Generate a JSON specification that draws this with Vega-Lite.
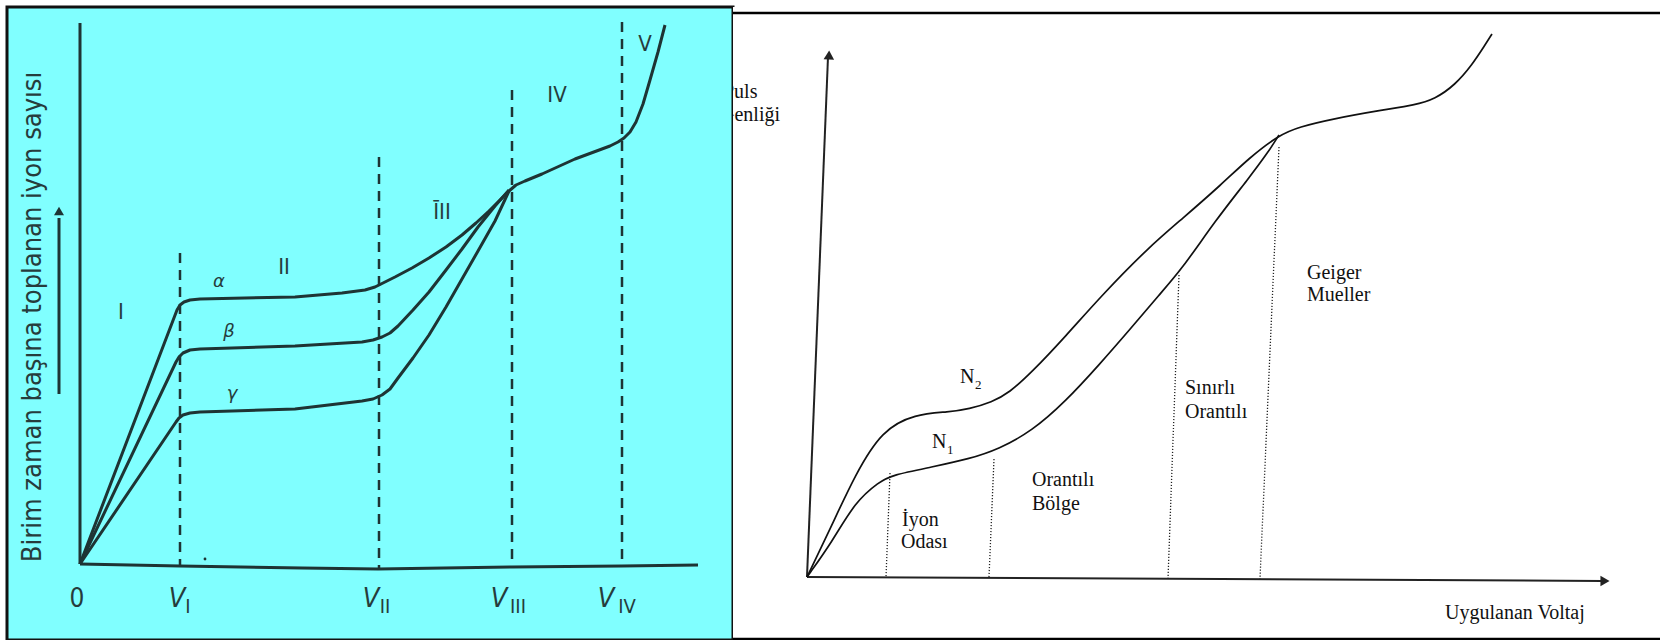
{
  "$schema": "https://vega.github.io/schema/vega-lite/v6.json",
  "padding": {"left": 5, "top": 5, "right": 0, "bottom": 0},
  "spacing": 0,
  "bounds": "flush",
  "background": "white",
  "config": {"view": {"stroke": null}},
  "datasets": {
    "leftCurves": [
      {"s": "alpha", "i": 0, "x": 0, "y": 0}, {"s": "alpha", "i": 1, "x": 97, "y": 254}, {"s": "alpha", "i": 2, "x": 100, "y": 259}, {"s": "alpha", "i": 3, "x": 104, "y": 262}, {"s": "alpha", "i": 4, "x": 110, "y": 264}, {"s": "alpha", "i": 5, "x": 120, "y": 265}, {"s": "alpha", "i": 6, "x": 215, "y": 267}, {"s": "alpha", "i": 7, "x": 262, "y": 271}, {"s": "alpha", "i": 8, "x": 285, "y": 274}, {"s": "alpha", "i": 9, "x": 295, "y": 277}, {"s": "alpha", "i": 10, "x": 307, "y": 283}, {"s": "alpha", "i": 11, "x": 315, "y": 287}, {"s": "alpha", "i": 12, "x": 332, "y": 296}, {"s": "alpha", "i": 13, "x": 349, "y": 306}, {"s": "alpha", "i": 14, "x": 366, "y": 317}, {"s": "alpha", "i": 15, "x": 382, "y": 329}, {"s": "alpha", "i": 16, "x": 396, "y": 341}, {"s": "alpha", "i": 17, "x": 409, "y": 353}, {"s": "alpha", "i": 18, "x": 420, "y": 364}, {"s": "alpha", "i": 19, "x": 429, "y": 373}, {"s": "alpha", "i": 20, "x": 436, "y": 379}, {"s": "alpha", "i": 21, "x": 445, "y": 383}, {"s": "alpha", "i": 22, "x": 462, "y": 390}, {"s": "alpha", "i": 23, "x": 495, "y": 405}, {"s": "alpha", "i": 24, "x": 530, "y": 418}, {"s": "alpha", "i": 25, "x": 538, "y": 422}, {"s": "alpha", "i": 26, "x": 544, "y": 426}, {"s": "alpha", "i": 27, "x": 550, "y": 432}, {"s": "alpha", "i": 28, "x": 556, "y": 442}, {"s": "alpha", "i": 29, "x": 563, "y": 460}, {"s": "alpha", "i": 30, "x": 570, "y": 484}, {"s": "alpha", "i": 31, "x": 578, "y": 512}, {"s": "alpha", "i": 32, "x": 585, "y": 539},
      {"s": "beta", "i": 0, "x": 0, "y": 0}, {"s": "beta", "i": 1, "x": 96, "y": 202}, {"s": "beta", "i": 2, "x": 99, "y": 207}, {"s": "beta", "i": 3, "x": 103, "y": 211}, {"s": "beta", "i": 4, "x": 110, "y": 214}, {"s": "beta", "i": 5, "x": 120, "y": 215}, {"s": "beta", "i": 6, "x": 215, "y": 218}, {"s": "beta", "i": 7, "x": 282, "y": 222}, {"s": "beta", "i": 8, "x": 293, "y": 224}, {"s": "beta", "i": 9, "x": 302, "y": 227}, {"s": "beta", "i": 10, "x": 310, "y": 231}, {"s": "beta", "i": 11, "x": 318, "y": 238}, {"s": "beta", "i": 12, "x": 333, "y": 254}, {"s": "beta", "i": 13, "x": 349, "y": 272}, {"s": "beta", "i": 14, "x": 366, "y": 294}, {"s": "beta", "i": 15, "x": 382, "y": 315}, {"s": "beta", "i": 16, "x": 398, "y": 337}, {"s": "beta", "i": 17, "x": 415, "y": 358}, {"s": "beta", "i": 18, "x": 429, "y": 374},
      {"s": "gamma", "i": 0, "x": 0, "y": 0}, {"s": "gamma", "i": 1, "x": 96, "y": 142}, {"s": "gamma", "i": 2, "x": 99, "y": 146}, {"s": "gamma", "i": 3, "x": 103, "y": 149}, {"s": "gamma", "i": 4, "x": 110, "y": 151}, {"s": "gamma", "i": 5, "x": 120, "y": 152}, {"s": "gamma", "i": 6, "x": 215, "y": 155}, {"s": "gamma", "i": 7, "x": 282, "y": 163}, {"s": "gamma", "i": 8, "x": 293, "y": 165}, {"s": "gamma", "i": 9, "x": 302, "y": 169}, {"s": "gamma", "i": 10, "x": 310, "y": 175}, {"s": "gamma", "i": 11, "x": 318, "y": 186}, {"s": "gamma", "i": 12, "x": 333, "y": 206}, {"s": "gamma", "i": 13, "x": 349, "y": 229}, {"s": "gamma", "i": 14, "x": 366, "y": 257}, {"s": "gamma", "i": 15, "x": 382, "y": 285}, {"s": "gamma", "i": 16, "x": 398, "y": 313}, {"s": "gamma", "i": 17, "x": 415, "y": 343}, {"s": "gamma", "i": 18, "x": 429, "y": 373}
    ],
    "leftAxes": [
      {"s": "base", "i": 0, "x": 0, "y": 0}, {"s": "base", "i": 1, "x": 100, "y": -2}, {"s": "base", "i": 2, "x": 222, "y": -4}, {"s": "base", "i": 3, "x": 298, "y": -5}, {"s": "base", "i": 4, "x": 432, "y": -3}, {"s": "base", "i": 5, "x": 542, "y": -2}, {"s": "base", "i": 6, "x": 618, "y": -1},
      {"s": "yaxis", "i": 0, "x": 0, "y": 0}, {"s": "yaxis", "i": 1, "x": 0, "y": 541},
      {"s": "arrow", "i": 0, "x": -21, "y": 170}, {"s": "arrow", "i": 1, "x": -21, "y": 346}
    ],
    "rightCurves": [
      {"s": "N2", "i": 0, "x": 0, "y": 0}, {"s": "N2", "i": 1, "x": 25, "y": 52}, {"s": "N2", "i": 2, "x": 48, "y": 102}, {"s": "N2", "i": 3, "x": 75, "y": 147}, {"s": "N2", "i": 4, "x": 108, "y": 163}, {"s": "N2", "i": 5, "x": 142, "y": 165}, {"s": "N2", "i": 6, "x": 162, "y": 168}, {"s": "N2", "i": 7, "x": 185, "y": 175}, {"s": "N2", "i": 8, "x": 202, "y": 184}, {"s": "N2", "i": 9, "x": 225, "y": 205}, {"s": "N2", "i": 10, "x": 258, "y": 240}, {"s": "N2", "i": 11, "x": 295, "y": 282}, {"s": "N2", "i": 12, "x": 342, "y": 330}, {"s": "N2", "i": 13, "x": 375, "y": 358}, {"s": "N2", "i": 14, "x": 415, "y": 393}, {"s": "N2", "i": 15, "x": 442, "y": 419}, {"s": "N2", "i": 16, "x": 472, "y": 442}, {"s": "N2", "i": 17, "x": 492, "y": 450}, {"s": "N2", "i": 18, "x": 525, "y": 458}, {"s": "N2", "i": 19, "x": 575, "y": 467}, {"s": "N2", "i": 20, "x": 608, "y": 472}, {"s": "N2", "i": 21, "x": 628, "y": 478}, {"s": "N2", "i": 22, "x": 648, "y": 492}, {"s": "N2", "i": 23, "x": 665, "y": 512}, {"s": "N2", "i": 24, "x": 678, "y": 532}, {"s": "N2", "i": 25, "x": 685, "y": 543},
      {"s": "N1", "i": 0, "x": 0, "y": 0}, {"s": "N1", "i": 1, "x": 25, "y": 35}, {"s": "N1", "i": 2, "x": 48, "y": 75}, {"s": "N1", "i": 3, "x": 72, "y": 95}, {"s": "N1", "i": 4, "x": 85, "y": 102}, {"s": "N1", "i": 5, "x": 125, "y": 110}, {"s": "N1", "i": 6, "x": 162, "y": 118}, {"s": "N1", "i": 7, "x": 192, "y": 128}, {"s": "N1", "i": 8, "x": 225, "y": 146}, {"s": "N1", "i": 9, "x": 258, "y": 175}, {"s": "N1", "i": 10, "x": 292, "y": 212}, {"s": "N1", "i": 11, "x": 325, "y": 250}, {"s": "N1", "i": 12, "x": 352, "y": 282}, {"s": "N1", "i": 13, "x": 375, "y": 308}, {"s": "N1", "i": 14, "x": 408, "y": 356}, {"s": "N1", "i": 15, "x": 442, "y": 399}, {"s": "N1", "i": 16, "x": 462, "y": 426}, {"s": "N1", "i": 17, "x": 472, "y": 442}
    ],
    "rightAxes": [
      {"s": "yaxis", "i": 0, "x": 0, "y": 0}, {"s": "yaxis", "i": 1, "x": 21, "y": 520},
      {"s": "xaxis", "i": 0, "x": 0, "y": 0}, {"s": "xaxis", "i": 1, "x": 796, "y": -4}
    ]
  },
  "hconcat": [
    {
      "width": 726,
      "height": 633,
      "view": {"fill": "#80FFFF", "stroke": "#111111", "strokeWidth": 3},
      "layer": [
        {
          "data": {"name": "leftAxes"},
          "mark": {"type": "line", "color": "#1e3434", "strokeWidth": 3, "interpolate": "linear"},
          "encoding": {
            "x": {"field": "x", "type": "quantitative", "scale": {"domain": [-73, 653], "nice": false, "zero": false}, "axis": null},
            "y": {"field": "y", "type": "quantitative", "scale": {"domain": [-76, 557], "nice": false, "zero": false}, "axis": null},
            "detail": {"field": "s"},
            "order": {"field": "i"}
          }
        },
        {
          "data": {"name": "leftCurves"},
          "mark": {"type": "line", "color": "#1e3434", "strokeWidth": 3, "interpolate": "linear", "strokeJoin": "round"},
          "encoding": {
            "x": {"field": "x", "type": "quantitative"},
            "y": {"field": "y", "type": "quantitative"},
            "detail": {"field": "s"},
            "order": {"field": "i"}
          }
        },
        {
          "data": {"values": [{"v": "V_I", "x": 100, "top": 311, "bottom": -2}, {"v": "V_II", "x": 299, "top": 407, "bottom": -4}, {"v": "V_III", "x": 432, "top": 474, "bottom": -3}, {"v": "V_IV", "x": 542, "top": 542, "bottom": -2}]},
          "mark": {"type": "rule", "color": "#1e3434", "strokeWidth": 2.5, "strokeDash": [10, 7]},
          "encoding": {
            "x": {"field": "x", "type": "quantitative"},
            "y": {"field": "top", "type": "quantitative"},
            "y2": {"field": "bottom"}
          }
        },
        {
          "data": {"values": [{"x": -21, "y": 353}]},
          "mark": {"type": "point", "shape": "triangle-up", "filled": true, "color": "#1e3434", "size": 100, "opacity": 1},
          "encoding": {
            "x": {"field": "x", "type": "quantitative"},
            "y": {"field": "y", "type": "quantitative"}
          }
        },
        {
          "data": {"values": [{"x": 125, "y": 5}]},
          "mark": {"type": "point", "shape": "circle", "filled": true, "color": "#1e3434", "size": 8, "opacity": 1},
          "encoding": {
            "x": {"field": "x", "type": "quantitative"},
            "y": {"field": "y", "type": "quantitative"}
          }
        },
        {
          "data": {"values": [{"t": "Birim zaman başına toplanan iyon sayısı", "x": -47, "y": 247}]},
          "mark": {"type": "text", "angle": 270, "font": "Liberation Sans Narrow, DejaVu Sans Condensed, sans-serif", "fontSize": 27, "color": "#263c3c", "align": "center", "baseline": "middle"},
          "encoding": {
            "x": {"field": "x", "type": "quantitative"},
            "y": {"field": "y", "type": "quantitative"},
            "text": {"field": "t"}
          }
        },
        {
          "data": {"values": [{"t": "0", "x": -3, "y": -35}]},
          "mark": {"type": "text", "font": "Liberation Sans Narrow, DejaVu Sans Condensed, sans-serif", "fontSize": 26, "color": "#263c3c", "align": "center", "baseline": "middle"},
          "encoding": {
            "x": {"field": "x", "type": "quantitative"},
            "y": {"field": "y", "type": "quantitative"},
            "text": {"field": "t"}
          }
        },
        {
          "data": {"values": [{"t": "V", "x": 97, "y": -35}, {"t": "V", "x": 291, "y": -35}, {"t": "V", "x": 419, "y": -35}, {"t": "V", "x": 526, "y": -35}]},
          "mark": {"type": "text", "font": "Liberation Sans Narrow, DejaVu Sans Condensed, sans-serif", "fontSize": 27, "fontStyle": "italic", "color": "#263c3c", "align": "center", "baseline": "middle"},
          "encoding": {
            "x": {"field": "x", "type": "quantitative"},
            "y": {"field": "y", "type": "quantitative"},
            "text": {"field": "t"}
          }
        },
        {
          "data": {"values": [{"t": "I", "x": 108, "y": -43}, {"t": "II", "x": 305, "y": -43}, {"t": "III", "x": 438, "y": -43}, {"t": "IV", "x": 547, "y": -43}]},
          "mark": {"type": "text", "font": "Liberation Sans Narrow, DejaVu Sans Condensed, sans-serif", "fontSize": 20, "color": "#263c3c", "align": "center", "baseline": "middle"},
          "encoding": {
            "x": {"field": "x", "type": "quantitative"},
            "y": {"field": "y", "type": "quantitative"},
            "text": {"field": "t"}
          }
        },
        {
          "data": {"values": [{"t": "I", "x": 41, "y": 252}, {"t": "II", "x": 204, "y": 297}, {"t": "ĪII", "x": 362, "y": 352}, {"t": "IV", "x": 477, "y": 469}, {"t": "V", "x": 565, "y": 520}]},
          "mark": {"type": "text", "font": "Liberation Sans Narrow, DejaVu Sans Condensed, sans-serif", "fontSize": 22, "color": "#263c3c", "align": "center", "baseline": "middle"},
          "encoding": {
            "x": {"field": "x", "type": "quantitative"},
            "y": {"field": "y", "type": "quantitative"},
            "text": {"field": "t"}
          }
        },
        {
          "data": {"values": [{"t": "α", "x": 139, "y": 282}, {"t": "β", "x": 149, "y": 232}, {"t": "γ", "x": 152, "y": 170}]},
          "mark": {"type": "text", "font": "DejaVu Sans", "fontSize": 18, "fontStyle": "italic", "color": "#263c3c", "align": "center", "baseline": "middle"},
          "encoding": {
            "x": {"field": "x", "type": "quantitative"},
            "y": {"field": "y", "type": "quantitative"},
            "text": {"field": "t"}
          }
        }
      ]
    },
    {
      "width": 929,
      "height": 635,
      "view": {"fill": "white", "stroke": null},
      "layer": [
        {
          "data": {"values": [{"b": "top", "x": -74, "x2": 855, "y": 564}, {"b": "bottom", "x": -74, "x2": 855, "y": -62}]},
          "mark": {"type": "rule", "color": "black", "strokeWidth": 2.5},
          "encoding": {
            "x": {"field": "x", "type": "quantitative", "scale": {"domain": [-74, 855], "nice": false, "zero": false}, "axis": null},
            "x2": {"field": "x2"},
            "y": {"field": "y", "type": "quantitative", "scale": {"domain": [-65, 570], "nice": false, "zero": false}, "axis": null}
          }
        },
        {
          "data": {"name": "rightAxes"},
          "mark": {"type": "line", "color": "#222222", "strokeWidth": 2, "interpolate": "linear"},
          "encoding": {
            "x": {"field": "x", "type": "quantitative"},
            "y": {"field": "y", "type": "quantitative"},
            "detail": {"field": "s"},
            "order": {"field": "i"}
          }
        },
        {
          "data": {"values": [{"a": "y", "x": 22, "y": 522}]},
          "mark": {"type": "point", "shape": "triangle-up", "filled": true, "color": "#222222", "size": 110, "opacity": 1, "angle": 2},
          "encoding": {
            "x": {"field": "x", "type": "quantitative"},
            "y": {"field": "y", "type": "quantitative"}
          }
        },
        {
          "data": {"values": [{"a": "x", "x": 798, "y": -4}]},
          "mark": {"type": "point", "shape": "triangle-right", "filled": true, "color": "#222222", "size": 110, "opacity": 1},
          "encoding": {
            "x": {"field": "x", "type": "quantitative"},
            "y": {"field": "y", "type": "quantitative"}
          }
        },
        {
          "data": {"name": "rightCurves"},
          "mark": {"type": "line", "color": "#111111", "strokeWidth": 1.7, "interpolate": "basis"},
          "encoding": {
            "x": {"field": "x", "type": "quantitative"},
            "y": {"field": "y", "type": "quantitative"},
            "detail": {"field": "s"},
            "order": {"field": "i"}
          }
        },
        {
          "data": {"values": [{"r": "ion", "x": 83, "y": 104, "x2": 79, "y2": 0}, {"r": "prop", "x": 187, "y": 118, "x2": 182, "y2": 0}, {"r": "limited", "x": 372, "y": 302, "x2": 361, "y2": -2}, {"r": "geiger", "x": 472, "y": 430, "x2": 453, "y2": -2}]},
          "mark": {"type": "rule", "color": "#222222", "strokeWidth": 1.3, "strokeDash": [1.2, 1.8]},
          "encoding": {
            "x": {"field": "x", "type": "quantitative"},
            "y": {"field": "y", "type": "quantitative"},
            "x2": {"field": "x2"},
            "y2": {"field": "y2"}
          }
        },
        {
          "data": {"values": [{"t": "Puls", "x": -84, "y": 485}, {"t": "Genliği", "x": -87, "y": 462}, {"t": "N", "x": 153, "y": 200}, {"t": "N", "x": 125, "y": 135}, {"t": "İyon", "x": 95, "y": 57}, {"t": "Odası", "x": 94, "y": 35}, {"t": "Orantılı", "x": 225, "y": 97}, {"t": "Bölge", "x": 225, "y": 73}, {"t": "Sınırlı", "x": 378, "y": 189}, {"t": "Orantılı", "x": 378, "y": 165}, {"t": "Geiger", "x": 500, "y": 304}, {"t": "Mueller", "x": 500, "y": 282}, {"t": "Uygulanan Voltaj", "x": 638, "y": -36}]},
          "mark": {"type": "text", "font": "Liberation Serif, DejaVu Serif, serif", "fontSize": 20, "color": "#111111", "align": "left", "baseline": "middle", "clip": true},
          "encoding": {
            "x": {"field": "x", "type": "quantitative"},
            "y": {"field": "y", "type": "quantitative"},
            "text": {"field": "t"}
          }
        },
        {
          "data": {"values": [{"t": "2", "x": 168, "y": 192}, {"t": "1", "x": 140, "y": 127}]},
          "mark": {"type": "text", "font": "Liberation Serif, DejaVu Serif, serif", "fontSize": 13, "color": "#111111", "align": "left", "baseline": "middle"},
          "encoding": {
            "x": {"field": "x", "type": "quantitative"},
            "y": {"field": "y", "type": "quantitative"},
            "text": {"field": "t"}
          }
        }
      ]
    }
  ]
}
